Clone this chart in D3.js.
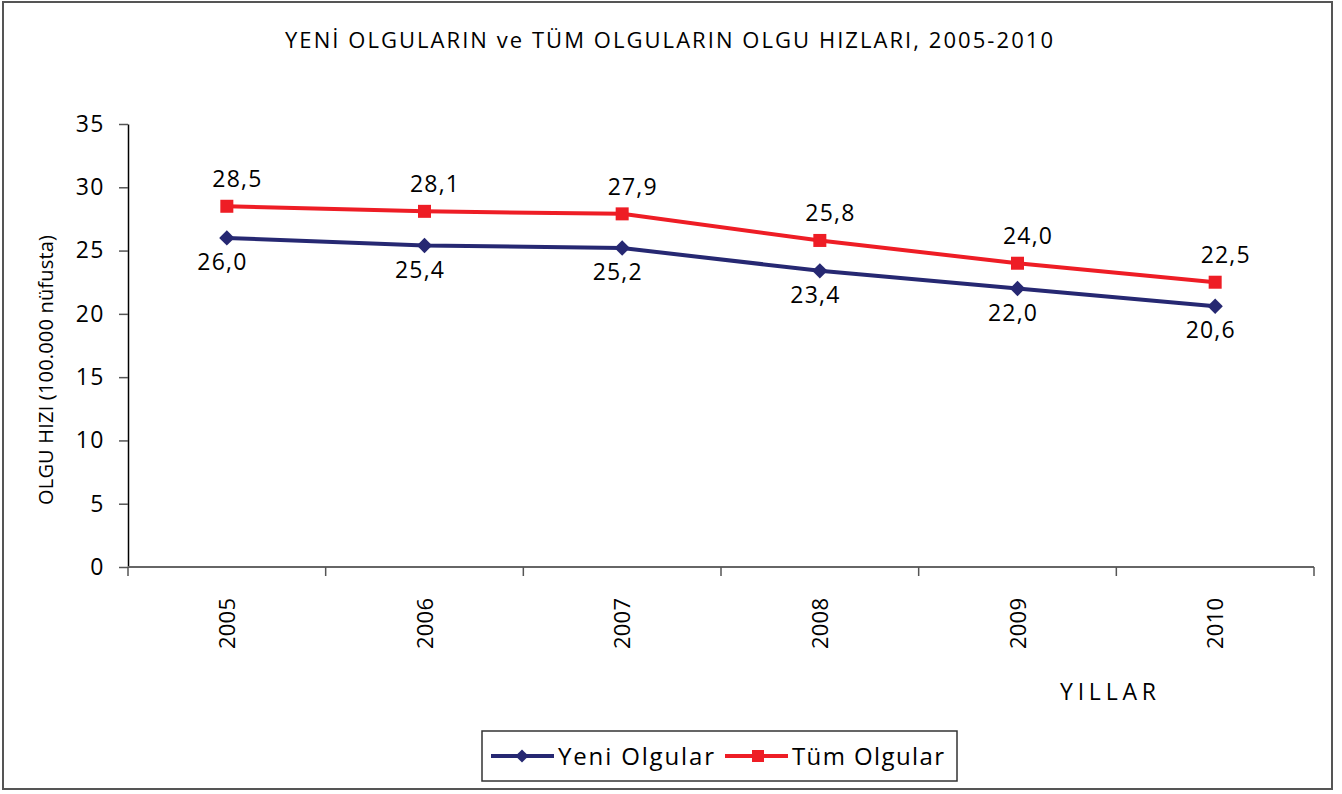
<!DOCTYPE html>
<html>
<head>
  <meta charset="utf-8">
  <script src="https://cdn.jsdelivr.net/npm/d3@7/dist/d3.min.js"></script>
  <style>
    body { margin: 0; background: #fff; }
    text { font-family: "Open Sans", "Noto Sans", sans-serif; fill: #000; }
  </style>
</head>
<body>
<script type="text/javascript">

  var years = ["2005", "2006", "2007", "2008", "2009", "2010"];
  var yeni = [26.0, 25.4, 25.2, 23.4, 22.0, 20.6];
  var tum  = [28.5, 28.1, 27.9, 25.8, 24.0, 22.5];
  var yTicks = [0, 5, 10, 15, 20, 25, 30, 35];
  var seriesNames = ["Yeni Olgular", "Tüm Olgular"];

  var W = 1342, H = 794;
  var margin = {top: 124, left: 128, right: 28, bottom: 227};
  var plotW = 1314 - margin.left;
  var plotH = 567 - margin.top;

  var blue = "#262872", red = "#ee1d25";
  var fmt = function(v) { return d3.format(".1f")(v).replace(".", ","); };

  var svg = d3.select("body").append("svg")
      .attr("width", W).attr("height", H);

  // outer frame
  svg.append("rect")
      .attr("x", 3).attr("y", 2).attr("width", 1329).attr("height", 787)
      .attr("fill", "none").attr("stroke", "#555").attr("stroke-width", 2);

  svg.append("text")
      .attr("x", 669).attr("y", 48)
      .attr("text-anchor", "middle")
      .attr("font-size", 22)
      .attr("textLength", 768).attr("lengthAdjust", "spacing")
      .text("YENİ OLGULARIN ve TÜM OLGULARIN OLGU HIZLARI, 2005-2010");

  var g = svg.append("g")
      .attr("transform", "translate(" + margin.left + "," + margin.top + ")");

  var x = d3.scaleBand().domain(years).range([0, plotW]);
  var y = d3.scaleLinear().domain([0, 35]).range([plotH, 0]);
  var cx = function(d, i) { return x(years[i]) + x.bandwidth() / 2; };

  // y axis
  var yAxis = g.append("g")
      .call(d3.axisLeft(y).tickValues(yTicks).tickSize(9).tickPadding(14).tickSizeOuter(0));
  yAxis.select(".domain").attr("stroke", "#000").attr("stroke-width", 1.5);
  yAxis.selectAll(".tick line").attr("stroke", "#555").attr("stroke-width", 1.5);
  yAxis.selectAll(".tick text")
      .attr("font-size", 23).attr("letter-spacing", 1.5)
      .attr("font-family", "Open Sans, sans-serif").attr("fill", "#000");

  // x axis: gray baseline with ticks at band edges
  g.append("line")
      .attr("x1", 0).attr("x2", plotW).attr("y1", plotH).attr("y2", plotH)
      .attr("stroke", "#666").attr("stroke-width", 2);
  var edges = years.map(function(d) { return x(d); }).concat([plotW]);
  g.selectAll("line.xtick").data(edges).enter().append("line")
      .attr("class", "xtick")
      .attr("x1", function(d) { return d; }).attr("x2", function(d) { return d; })
      .attr("y1", plotH).attr("y2", plotH + 9)
      .attr("stroke", "#555").attr("stroke-width", 1.5);
  g.selectAll("text.xlab").data(years).enter().append("text")
      .attr("class", "xlab")
      .attr("transform", function(d, i) {
        return "translate(" + (cx(d, i) + 8) + "," + (plotH + 31) + ") rotate(-90)";
      })
      .attr("text-anchor", "end")
      .attr("font-size", 22)
      .attr("textLength", 51).attr("lengthAdjust", "spacing")
      .text(function(d) { return d; });

  // axis titles
  svg.append("text")
      .attr("transform", "translate(53,370) rotate(-90)")
      .attr("text-anchor", "middle")
      .attr("font-size", 20)
      .attr("textLength", 270).attr("lengthAdjust", "spacing")
      .text("OLGU HIZI (100.000 nüfusta)");
  svg.append("text")
      .attr("x", 1060).attr("y", 700)
      .attr("font-size", 23)
      .attr("textLength", 96).attr("lengthAdjust", "spacing")
      .text("YILLAR");

  var line = d3.line()
      .x(function(d, i) { return cx(d, i); })
      .y(function(d) { return y(d); });

  // Tüm Olgular
  g.append("path").datum(tum)
      .attr("d", line).attr("fill", "none")
      .attr("stroke", red).attr("stroke-width", 4);
  g.selectAll("rect.tum").data(tum).enter().append("rect")
      .attr("class", "tum")
      .attr("x", function(d, i) { return cx(d, i) - 6.5; })
      .attr("y", function(d) { return y(d) - 6.5; })
      .attr("width", 13).attr("height", 13)
      .attr("fill", red);
  g.selectAll("text.tum").data(tum).enter().append("text")
      .attr("class", "tum")
      .attr("x", function(d, i) { return cx(d, i) + 10; })
      .attr("y", function(d) { return y(d) - 19; })
      .attr("text-anchor", "middle")
      .attr("font-size", 23)
      .attr("textLength", 49).attr("lengthAdjust", "spacing")
      .text(fmt);

  // Yeni Olgular
  var diamond = d3.symbol().type(d3.symbolDiamond2).size(150);
  g.append("path").datum(yeni)
      .attr("d", line).attr("fill", "none")
      .attr("stroke", blue).attr("stroke-width", 4);
  g.selectAll("path.yeni").data(yeni).enter().append("path")
      .attr("class", "yeni")
      .attr("d", diamond)
      .attr("transform", function(d, i) { return "translate(" + cx(d, i) + "," + y(d) + ")"; })
      .attr("fill", blue);
  g.selectAll("text.yeni").data(yeni).enter().append("text")
      .attr("class", "yeni")
      .attr("x", function(d, i) { return cx(d, i) - 5; })
      .attr("y", function(d) { return y(d) + 32; })
      .attr("text-anchor", "middle")
      .attr("font-size", 23)
      .attr("textLength", 49).attr("lengthAdjust", "spacing")
      .text(fmt);

  // legend
  var leg = svg.append("g");
  leg.append("rect")
      .attr("x", 482).attr("y", 731).attr("width", 475).attr("height", 50)
      .attr("fill", "#fff").attr("stroke", "#333").attr("stroke-width", 1.5);
  var legX = [491, 725];
  var legColors = [blue, red];
  seriesNames.forEach(function(name, i) {
    var lx = legX[i];
    leg.append("line")
        .attr("x1", lx).attr("x2", lx + 63).attr("y1", 756).attr("y2", 756)
        .attr("stroke", legColors[i]).attr("stroke-width", 4);
    if (i === 0) {
      leg.append("path")
          .attr("d", d3.symbol().type(d3.symbolDiamond2).size(110))
          .attr("transform", "translate(" + (lx + 31) + ",756)")
          .attr("fill", blue);
    } else {
      leg.append("rect")
          .attr("x", lx + 27).attr("y", 750).attr("width", 12).attr("height", 12)
          .attr("fill", red);
    }
    leg.append("text")
        .attr("x", lx + 67).attr("y", 765)
        .attr("font-size", 24)
        .attr("textLength", i === 0 ? 156 : 152).attr("lengthAdjust", "spacing")
        .text(name);
  });

</script>
</body>
</html>
